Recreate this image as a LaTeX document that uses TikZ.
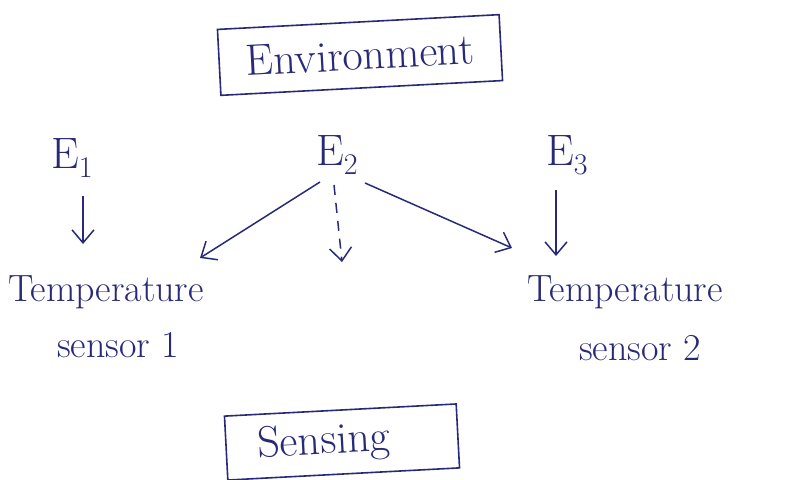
\documentclass[tikz,border=0pt]{standalone}
\usetikzlibrary{arrows.meta}
\definecolor{ink}{RGB}{40,42,120}
\newcommand{\esub}[1]{E\raisebox{-9pt}{\fontsize{30}{30}\selectfont #1}}
\begin{document}
\begin{tikzpicture}[x=1pt,y=-1pt,
  ink/.style={color=ink},
  lbl/.style={ink,font=\fontsize{38}{42}\selectfont,inner sep=0pt},
  big/.style={ink,font=\fontsize{44}{48}\selectfont,inner sep=0pt},
  ebox/.style={big,draw=ink,line width=1.6pt,inner xsep=14pt,inner ysep=10pt},
  arr/.style={draw=ink,line width=1.5pt,-{Straight Barb[length=13pt,width=22pt,line width=1.5pt]}}]
\useasboundingbox (0,0) rectangle (789,479);
\fill[white] (0,0) rectangle (789,479);
% boxes
\node[ebox,minimum width=282pt,minimum height=66pt,rotate=3] (env) at (360,55) {Environment};
\node[ebox,minimum width=232pt,minimum height=64pt,rotate=3] (sens) at (342,442) {Sensing\hspace*{36pt}};
% sources
\node[big] (e1) at (72,158) {\esub{1}};
\node[big] (e2) at (337,155) {\esub{2}};
\node[big] (e3) at (567,155) {\esub{3}};
% sensors
\node[lbl] (t1) at (106,292) {Temperature};
\node[lbl] (s1) at (118,345) {sensor 1};
\node[lbl] (t2) at (625,292) {Temperature};
\node[lbl] (s2) at (640,348) {sensor 2};
% arrow endpoints
\coordinate (a1) at (83,244);
\coordinate (a2) at (200,258);
\coordinate (a3) at (342,262);
\coordinate (a4) at (512,248);
\coordinate (a5) at (556,256);
% arrows
\draw[arr] (83,196) -- (a1);
\draw[arr] (320,182) -- (a2);
\draw[arr,dash pattern=on 10pt off 8pt] (334,185) -- (a3);
\draw[arr] (365,183) -- (a4);
\draw[arr] (556,190) -- (a5);
\end{tikzpicture}
\end{document}
